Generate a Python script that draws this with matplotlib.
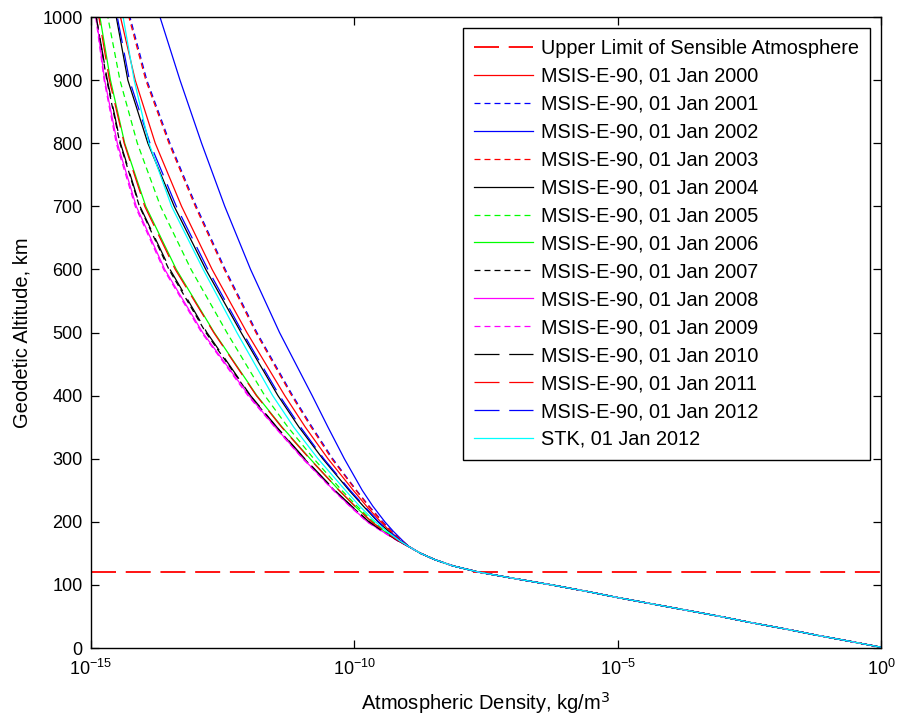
import numpy as np
import matplotlib
matplotlib.use("Agg")
import matplotlib.pyplot as plt

plt.rcParams["font.family"] = ["Liberation Sans", "DejaVu Sans"]
plt.rcParams["lines.scale_dashes"] = False

# common lower part (all curves coincide), log10 of density in kg/m^3
alt_low = [0, 10, 20, 30, 40, 50, 60, 70, 80, 90, 100, 110, 120, 130, 140, 150, 160]
logrho_low = [0.08, -0.55, -1.2, -1.8, -2.45, -3.05, -3.7, -4.35, -5.0, -5.6,
              -6.25, -6.95, -7.62, -8.12, -8.47, -8.74, -8.95]

# upper part, one list per curve
alt_high = [170, 185, 200, 225, 250, 300, 350, 400, 500, 600, 700, 800, 900, 1000]
logrho_2000 = [-9.12, -9.32, -9.50, -9.77, -10.02, -10.50, -10.93, -11.32, -12.04, -12.70, -13.28, -13.78, -14.16, -14.44]
logrho_2001 = [-9.10, -9.29, -9.46, -9.72, -9.96, -10.41, -10.80, -11.17, -11.85, -12.45, -13.00, -13.50, -13.94, -14.26]
logrho_2002 = [-9.08, -9.26, -9.42, -9.65, -9.85, -10.19, -10.50, -10.80, -11.42, -11.97, -12.46, -12.90, -13.31, -13.69]
logrho_2003 = [-9.10, -9.30, -9.47, -9.73, -9.97, -10.43, -10.82, -11.19, -11.87, -12.47, -13.02, -13.52, -13.96, -14.28]
logrho_2004 = [-9.13, -9.35, -9.55, -9.83, -10.10, -10.60, -11.05, -11.45, -12.15, -12.82, -13.42, -13.92, -14.30, -14.52]
logrho_2005 = [-9.15, -9.41, -9.64, -9.95, -10.24, -10.77, -11.26, -11.70, -12.42, -13.10, -13.68, -14.12, -14.45, -14.68]
logrho_2006 = [-9.16, -9.43, -9.67, -9.99, -10.29, -10.84, -11.37, -11.85, -12.66, -13.38, -13.96, -14.36, -14.63, -14.83]
logrho_2007 = [-9.17, -9.46, -9.72, -10.06, -10.38, -10.95, -11.48, -11.98, -12.82, -13.52, -14.08, -14.45, -14.70, -14.90]
logrho_2008 = [-9.17, -9.47, -9.75, -10.08, -10.39, -10.97, -11.50, -12.00, -12.88, -13.60, -14.14, -14.50, -14.74, -14.90]
logrho_2009 = [-9.18, -9.48, -9.76, -10.09, -10.40, -10.98, -11.51, -12.02, -12.90, -13.62, -14.16, -14.52, -14.75, -14.91]
logrho_2010 = [-9.17, -9.46, -9.72, -10.05, -10.37, -10.94, -11.47, -11.97, -12.80, -13.50, -14.07, -14.44, -14.69, -14.90]
logrho_2011 = [-9.16, -9.43, -9.67, -9.99, -10.29, -10.85, -11.38, -11.86, -12.67, -13.40, -13.98, -14.37, -14.65, -14.85]
logrho_2012 = [-9.13, -9.34, -9.54, -9.81, -10.08, -10.58, -11.02, -11.42, -12.12, -12.78, -13.38, -13.88, -14.27, -14.50]
logrho_stk = [-9.14, -9.38, -9.60, -9.90, -10.17, -10.69, -11.15, -11.55, -12.23, -12.87, -13.47, -13.90, -14.18, -14.39]

upper_limit = 120  # km

short = (0, (4.3, 2.9))
long_ = (0, (18, 7))

series = [
    ("MSIS-E-90, 01 Jan 2000", logrho_2000, "#ff0000", "-"),
    ("MSIS-E-90, 01 Jan 2001", logrho_2001, "#0000ff", short),
    ("MSIS-E-90, 01 Jan 2002", logrho_2002, "#0000ff", "-"),
    ("MSIS-E-90, 01 Jan 2003", logrho_2003, "#ff0000", short),
    ("MSIS-E-90, 01 Jan 2004", logrho_2004, "k", "-"),
    ("MSIS-E-90, 01 Jan 2005", logrho_2005, "#00ff00", short),
    ("MSIS-E-90, 01 Jan 2006", logrho_2006, "#00ff00", "-"),
    ("MSIS-E-90, 01 Jan 2007", logrho_2007, "k", short),
    ("MSIS-E-90, 01 Jan 2008", logrho_2008, "#ff00ff", "-"),
    ("MSIS-E-90, 01 Jan 2009", logrho_2009, "#ff00ff", short),
    ("MSIS-E-90, 01 Jan 2010", logrho_2010, "k", long_),
    ("MSIS-E-90, 01 Jan 2011", logrho_2011, "#ff0000", long_),
    ("MSIS-E-90, 01 Jan 2012", logrho_2012, "#0000ff", long_),
    ("STK, 01 Jan 2012", logrho_stk, "#00ffff", "-"),
]

fig = plt.figure(figsize=(8.99, 7.21), dpi=100)
ax = fig.add_axes([0.1012, 0.1012, 0.8788, 0.8752])

ax.plot([1e-15, 1e0], [upper_limit, upper_limit], color="#ff0000", linestyle=long_,
        linewidth=1.3, label="Upper Limit of Sensible Atmosphere")

for label, vals, color, ls in series:
    alt = np.array(alt_low + alt_high)
    rho = np.power(10.0, np.array(logrho_low + vals))
    ax.plot(rho, alt, color=color, linestyle=ls, linewidth=0.9, label=label)

ax.set_xscale("log")
ax.set_xlim(1e-15, 1e0)
ax.set_ylim(0, 1000)
ax.set_xticks([1e-15, 1e-10, 1e-5, 1e0])
ax.minorticks_off()
ax.set_yticks(range(0, 1001, 100))
ax.tick_params(direction="in", length=6, width=0.9, top=True, right=True,
               labelsize=13)
ax.tick_params(axis="x", pad=8)
ax.tick_params(axis="y", pad=6)
for s in ax.spines.values():
    s.set_linewidth(1.0)

ax.set_xlabel("Atmospheric Density, kg/m$^3$", fontsize=14.5, labelpad=8)
ax.set_ylabel("Geodetic Altitude, km", fontsize=14.5, labelpad=8)

leg = ax.legend(loc="upper right", fontsize=14.3, fancybox=False,
                framealpha=1, edgecolor="k", handlelength=3.0,
                handletextpad=0.4, labelspacing=0.45, borderaxespad=0.55,
                borderpad=0.55)
leg.get_frame().set_linewidth(1.0)

fig.savefig("out.png", dpi=100)
